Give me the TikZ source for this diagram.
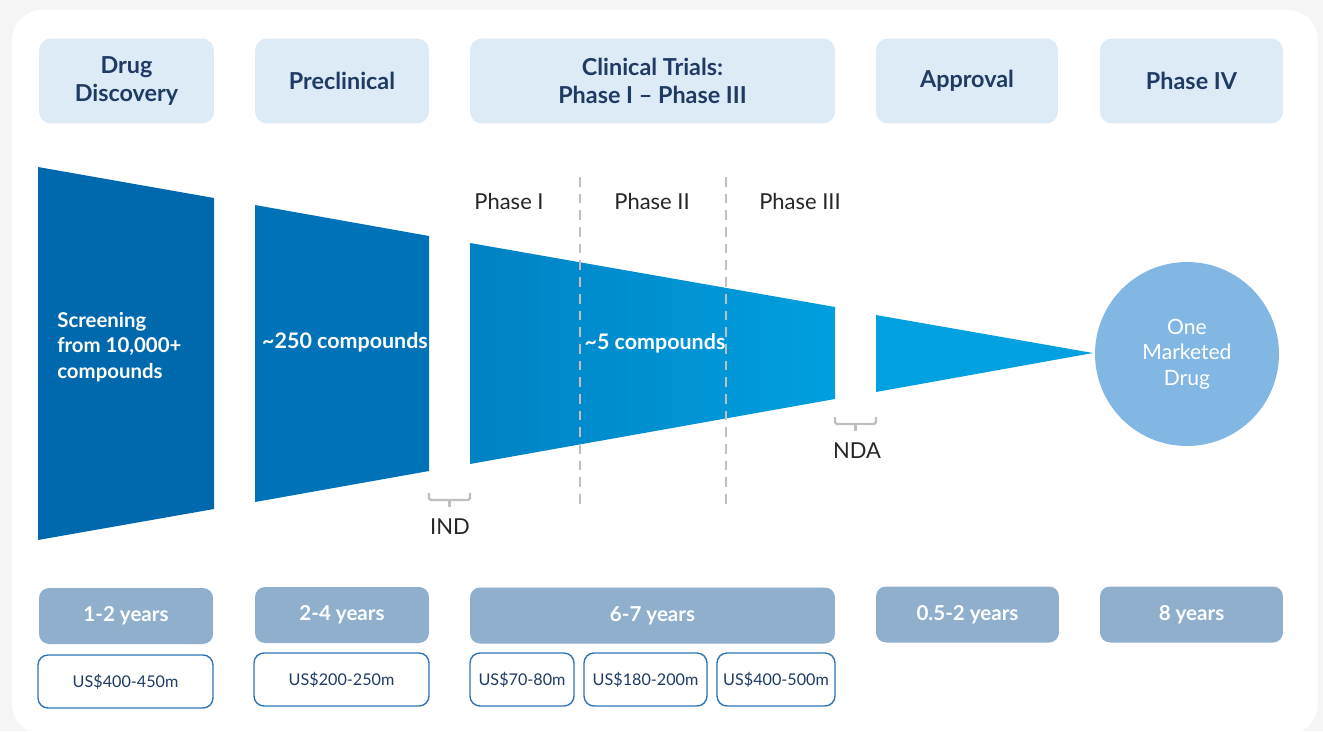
\documentclass[tikz,border=0pt]{standalone}
\usepackage{fontspec}
\setmainfont{Lato}

\definecolor{pagegray}{HTML}{F5F5F5}
\definecolor{hdrfill}{HTML}{DDEBF7}
\definecolor{navy}{HTML}{1F3B63}
\definecolor{yrsfill}{HTML}{8FAFCD}
\definecolor{costline}{HTML}{2E75B6}
\definecolor{stageA}{HTML}{0068AD}
\definecolor{stageB}{HTML}{0073B8}
\definecolor{stageCl}{HTML}{0082C4}
\definecolor{stageCr}{HTML}{009FDF}
\definecolor{stageD}{HTML}{00A0E1}
\definecolor{drugfill}{HTML}{83B7E3}
\definecolor{marker}{HTML}{BFBFBF}
\definecolor{ink}{HTML}{262626}

\begin{document}
\begin{tikzpicture}[x=0.02cm,y=-0.02cm]
        \tikzstyle{hdr} = [fill=hdrfill, text=navy, rounded corners=0.24cm, minimum height=1.7cm, inner sep=0, align=center, font=\bfseries\fontsize{13.3}{16}\selectfont]
        \tikzstyle{yrs} = [fill=yrsfill, text=white, rounded corners=0.2cm, minimum height=1.12cm, inner sep=0, font=\bfseries\fontsize{11.7}{13}\selectfont]
        \tikzstyle{cost} = [draw=costline, line width=0.8pt, fill=white, text=navy, rounded corners=0.2cm, minimum height=1.06cm, inner sep=0, font=\fontsize{9.2}{11}\selectfont]
        \tikzstyle{inner} = [text=white, inner sep=0, font=\bfseries\fontsize{11.6}{14.5}\selectfont]
        \tikzstyle{phase} = [text=ink, inner sep=0, font=\fontsize{12.5}{14}\selectfont]
        \tikzstyle{gate} = [draw=marker, line width=1.4pt, rounded corners=1pt]

        \useasboundingbox[fill=pagegray] (0,0) rectangle (1323,731);
        \fill[white, rounded corners=0.6cm] (12,10) rectangle (1318,734);

        % stage headers
        \node[hdr, minimum width=3.5cm] (discovery) at (126.5,81) {Drug\\Discovery};
        \node[hdr, minimum width=3.48cm] (preclinical) at (342,81) {Preclinical};
        \node[hdr, minimum width=7.3cm] (clinical) at (652.5,81) {Clinical Trials:\\Phase I -- Phase III};
        \node[hdr, minimum width=3.64cm] (approval) at (967,81) {Approval};
        \node[hdr, minimum width=3.66cm] (phasefour) at (1191.5,81) {Phase IV};

        % funnel
        \fill[stageA] (38,167) -- (214,198) -- (214,509) -- (38,540) -- cycle;
        \fill[stageB] (255,205) -- (429,236) -- (429,471) -- (255,502) -- cycle;
        \shade[left color=stageCl, right color=stageCr] (470,243) -- (835,307) -- (835,399) -- (470,464) -- cycle;
        \fill[stageD] (876,315) -- (1093,353) -- (876,392) -- cycle;
        \node[circle, fill=drugfill, minimum size=3.68cm, inner sep=0] (drug) at (1187,354) {};

        \node[inner, anchor=west, align=left] (screening) at (57,347) {Screening\\from 10,000+\\compounds};
        \node[inner, font=\bfseries\fontsize{12.2}{14.5}\selectfont] (twofifty) at (345,342) {\char`~250 compounds};
        \node[inner, font=\bfseries\fontsize{12.2}{14.5}\selectfont] (five) at (655,343) {\char`~5 compounds};
        \node[inner, align=center, font=\fontsize{12}{14.5}\selectfont] (marketed) at (drug) {One\\Marketed\\Drug};

        % trial phases
        \node[phase] (phaseone) at (509,201) {Phase I};
        \node[phase] (phasetwo) at (652,201) {Phase II};
        \node[phase] (phasethree) at (800,201) {Phase III};
        \draw[marker, line width=1.4pt, dash pattern=on 5.5pt off 4pt] (580,177) -- (580,505);
        \draw[marker, line width=1.4pt, dash pattern=on 5.5pt off 4pt] (726,177) -- (726,505);

        % filings
        \draw[gate] (429,493) -- (429,500) -- (470,500) -- (470,493);
        \draw[gate] (449.5,500) -- (449.5,507);
        \node[phase] (ind) at (450,527) {IND};
        \draw[gate] (835,417) -- (835,424) -- (876,424) -- (876,417);
        \draw[gate] (855.5,424) -- (855.5,431);
        \node[phase] (nda) at (857,451) {NDA};

        % durations
        \node[yrs, minimum width=3.48cm] (yrsA) at (126,616) {1-2 years};
        \node[yrs, minimum width=3.48cm] (yrsB) at (342,615) {2-4 years};
        \node[yrs, minimum width=7.3cm] (yrsC) at (652.5,615.5) {6-7 years};
        \node[yrs, minimum width=3.66cm] (yrsD) at (967.5,614.5) {0.5-2 years};
        \node[yrs, minimum width=3.66cm] (yrsE) at (1191.5,614.5) {8 years};

        % costs
        \node[cost, minimum width=3.5cm] (costA) at (125.5,681.5) {US\$400-450m};
        \node[cost, minimum width=3.5cm] (costB) at (341.5,679.5) {US\$200-250m};
        \node[cost, minimum width=2.08cm] (costC) at (522,679.5) {US\$70-80m};
        \node[cost, minimum width=2.46cm] (costD) at (645.5,679.5) {US\$180-200m};
        \node[cost, minimum width=2.36cm] (costE) at (776,679.5) {US\$400-500m};
\end{tikzpicture}
\end{document}
